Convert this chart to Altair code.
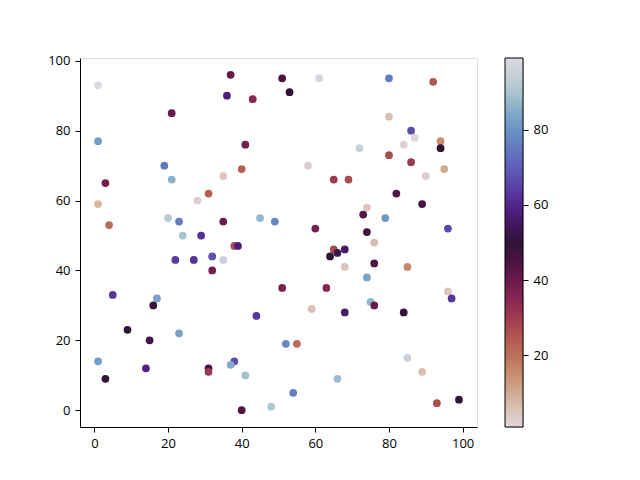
import altair as alt
import pandas as pd

# ---- data ----
xs = [1, 21, 1, 19, 21, 3, 31, 28, 1, 20, 23, 4, 24, 29, 37, 51, 61, 36, 53, 43,
      41, 40, 58, 35, 65, 69, 35, 45, 49, 60, 80, 92, 80, 86, 87, 84, 94, 94, 72, 80,
      86, 95, 90, 82, 89, 74, 73, 79, 74, 96, 22, 27, 32, 32, 5, 17, 16, 9, 23, 15,
      1, 14, 31, 31, 3, 38, 39, 35, 65, 64, 66, 68, 68, 51, 63, 59, 68, 44, 52, 55,
      38, 37, 41, 66, 54, 48, 40, 76, 76, 85, 74, 96, 97, 75, 76, 84, 85, 89, 93, 99]
ys = [93, 85, 77, 70, 66, 65, 62, 60, 59, 55, 54, 53, 50, 50, 96, 95, 95, 90, 91, 89,
      76, 69, 70, 67, 66, 66, 54, 55, 54, 52, 95, 94, 84, 80, 78, 76, 77, 75, 75, 73,
      71, 69, 67, 62, 59, 58, 56, 55, 51, 52, 43, 43, 44, 40, 33, 32, 30, 23, 22, 20,
      14, 12, 12, 11, 9, 47, 47, 43, 46, 44, 45, 46, 41, 35, 35, 29, 28, 27, 19, 19,
      14, 13, 10, 9, 5, 1, 0, 48, 42, 41, 38, 34, 32, 31, 30, 28, 15, 11, 2, 3]
cs = [99, 40, 82, 75, 86, 38, 23, 3, 8, 92, 76, 21, 90, 62, 41, 45, 97, 58, 50, 35,
      38, 23, 3, 5, 31, 27, 40, 87, 78, 38, 76, 25, 6, 67, 1, 2, 15, 50, 95, 27,
      31, 10, 3, 44, 45, 5, 43, 81, 47, 66, 64, 62, 68, 38, 63, 83, 48, 50, 83, 53,
      82, 59, 46, 31, 49, 27, 58, 96, 27, 50, 53, 56, 5, 37, 35, 6, 56, 63, 78, 21,
      67, 85, 89, 88, 76, 91, 44, 7, 45, 16, 83, 5, 63, 87, 40, 49, 95, 6, 27, 50]

# reversed "twilight" colour map, low -> high
cmap_colors = ["#e0d6dc", "#d8c2b4", "#cea68c", "#c68a6c", "#bc6c58", "#b05450",
               "#9e3a50", "#852452", "#6a1a4c", "#4a1440", "#301438", "#44165e",
               "#52248a", "#5a40a6", "#5e5cb6", "#6276c0", "#6a90c6", "#80a8c8",
               "#a4c2ce", "#c6d0d6", "#dcd8e0"]
cbar_ticks = [20, 40, 60, 80]
x_ticks = [0, 20, 40, 60, 80, 100]
y_ticks = [0, 20, 40, 60, 80, 100]

cmin, cmax = min(cs), max(cs)
n = len(cmap_colors)
stops_val = [cmin + (cmax - cmin) * i / (n - 1) for i in range(n)]

df = pd.DataFrame({"x": xs, "y": ys, "c": cs})

FONT = "Open Sans"
FS = 13
ax_style = dict(title=None, grid=False, labelFont=FONT, labelFontSize=FS, labelColor="black",
                domainColor="black", domainWidth=1, tickColor="black", tickWidth=1,
                tickSize=5, labelPadding=5)

scatter = alt.Chart(df).mark_circle(size=60, opacity=1).encode(
    x=alt.X("x:Q", scale=alt.Scale(domain=[-3.9, 103.9], nice=False, zero=False),
            axis=alt.Axis(values=x_ticks, **ax_style)),
    y=alt.Y("y:Q", scale=alt.Scale(domain=[-4.8, 100.8], nice=False, zero=False),
            axis=alt.Axis(values=y_ticks, **ax_style)),
    color=alt.Color("c:Q", scale=alt.Scale(type="linear", domain=stops_val, range=cmap_colors),
                    legend=None),
).properties(width=397, height=369)

grad = alt.LinearGradient(
    gradient="linear",
    stops=[alt.GradientStop(offset=i / (n - 1), color=col) for i, col in enumerate(cmap_colors)],
    x1=0, x2=0, y1=1, y2=0,
)

cbar_df = pd.DataFrame({"lo": [cmin], "hi": [cmax]})
cbar = alt.Chart(cbar_df).mark_rect(color=grad, stroke="black", strokeWidth=1).encode(
    x=alt.value(0), x2=alt.value(18),
    y=alt.Y("lo:Q", scale=alt.Scale(domain=[cmin, cmax], nice=False, zero=False),
            axis=alt.Axis(values=cbar_ticks, orient="right", domain=False, **ax_style)),
    y2="hi:Q",
).properties(width=18, height=369)

chart = alt.hconcat(scatter, cbar, spacing=26).properties(
    padding={"left": 39, "top": 46, "right": 5, "bottom": 5}
).configure_view(stroke="black", strokeWidth=1).configure(background="white")

chart.save("out.html", embed_options={"renderer": "svg", "actions": False})
